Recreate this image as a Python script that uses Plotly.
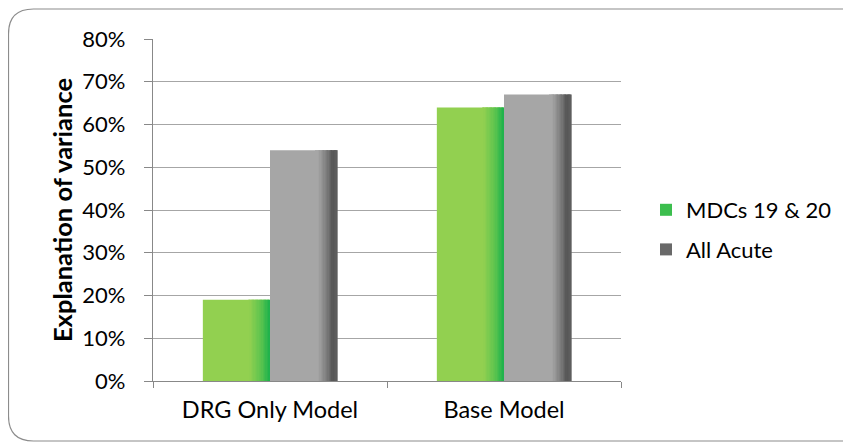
import plotly.graph_objects as go

categories = ["DRG Only Model", "Base Model"]
series_names = ["MDCs 19 & 20", "All Acute"]
mdc_values = [0.19, 0.64]
acute_values = [0.54, 0.67]
y_ticks = [0, 0.1, 0.2, 0.3, 0.4, 0.5, 0.6, 0.7, 0.8]
y_tick_labels = ["0%", "10%", "20%", "30%", "40%", "50%", "60%", "70%", "80%"]

FONT = "Lato, 'Open Sans', sans-serif"
BAR_W = 0.287

def lerp(c1, c2, t):
    return tuple(round(a + (b - a) * t) for a, b in zip(c1, c2))

def rgb(c):
    return "rgb(%d,%d,%d)" % c

green_stops = [(0.0, (146, 208, 80)), (0.70, (146, 208, 80)), (0.88, (90, 195, 78)), (1.0, (28, 178, 76))]
gray_stops = [(0.0, (166, 166, 166)), (0.72, (166, 166, 166)), (0.86, (120, 120, 120)), (0.94, (85, 85, 85)), (1.0, (95, 95, 95))]

def color_at(stops, f):
    for (f1, c1), (f2, c2) in zip(stops[:-1], stops[1:]):
        if f1 <= f <= f2:
            t = 0 if f2 == f1 else (f - f1) / (f2 - f1)
            return lerp(c1, c2, t)
    return stops[-1][1]

fig = go.Figure()

def add_series(values, name, stops, base_offset, legend_color, rank):
    fig.add_trace(go.Bar(
        x=categories, y=values, name=name, offset=base_offset, width=BAR_W,
        marker=dict(color=rgb(stops[0][1]), line=dict(width=0)),
        showlegend=False, legendgroup=name, hoverinfo="skip"))
    n = 16
    start = 0.68
    for i in range(n):
        f0 = start + (1 - start) * i / n
        f1 = start + (1 - start) * (i + 1) / n
        c = color_at(stops, (f0 + f1) / 2)
        fig.add_trace(go.Bar(
            x=categories, y=values, name=name,
            offset=base_offset + f0 * BAR_W, width=(f1 - f0) * BAR_W + 0.002,
            marker=dict(color=rgb(c), line=dict(width=0)),
            showlegend=False, legendgroup=name, hoverinfo="skip"))
    fig.add_trace(go.Bar(
        x=[categories[0]], y=[None], name=name,
        marker=dict(color=legend_color, line=dict(width=0)),
        showlegend=True, legendgroup=name, legendrank=rank, hoverinfo="skip"))

add_series(mdc_values, series_names[0], green_stops, -BAR_W, "rgb(60,190,78)", 1)
add_series(acute_values, series_names[1], gray_stops, 0.0, "rgb(105,105,105)", 2)

# figure is drawn with an 8px page offset; work in figure pixels
W, H = 843, 435
L, T, PW, PH = 145, 31, 468, 342
R, B = W - L - PW, H - T - PH

def px(x):
    return (x - L) / PW

def py(y):
    return (H - B - y) / PH

rad = 25
x0, x1 = px(0.5), px(860)
y0, y1 = py(433), py(1)
rx, ry = rad / PW, rad / PH
border = (f"M {x0+rx},{y1} L {x1},{y1} L {x1},{y0} L {x0+rx},{y0} "
          f"Q {x0},{y0} {x0},{y0+ry} L {x0},{y1-ry} Q {x0},{y1} {x0+rx},{y1} Z")

fig.update_layout(
    width=W, height=H,
    margin=dict(l=L, r=R, t=T, b=B, autoexpand=False),
    barmode="overlay",
    paper_bgcolor="white", plot_bgcolor="white",
    font=dict(family=FONT, size=22, color="black"),
    showlegend=True,
    legend=dict(x=px(638), xanchor="left", xref="paper", y=py(222), yanchor="middle",
                font=dict(size=22, family=FONT), tracegroupgap=8,
                itemwidth=30, bgcolor="rgba(0,0,0,0)", traceorder="grouped"),
    xaxis=dict(type="category", range=[-0.5, 1.5], showline=True, linecolor="#888888",
               linewidth=1.3, ticks="outside", ticklen=6, tickcolor="#888888",
               tickson="boundaries", showgrid=False, tickfont=dict(size=23.5, family=FONT),
               ticklabelstandoff=8, automargin=False),
    yaxis=dict(range=[0, 0.8], tickvals=y_ticks, ticktext=y_tick_labels,
               showline=True, linecolor="#888888", linewidth=1.3, ticks="outside",
               ticklen=8, tickcolor="#888888", showgrid=True, gridcolor="#a6a6a6",
               gridwidth=1.2, zeroline=False, tickfont=dict(size=22, family=FONT),
               ticklabelstandoff=14, automargin=False,
               title=dict(text="<b>Explanation of variance</b>", font=dict(size=25.5, family=FONT),
                          standoff=2)),
    shapes=[dict(type="path", xref="paper", yref="paper", path=border,
                 line=dict(color="#8c8c8c", width=1.2), fillcolor="rgba(0,0,0,0)", layer="below")],
)

fig.write_html("out.html")
